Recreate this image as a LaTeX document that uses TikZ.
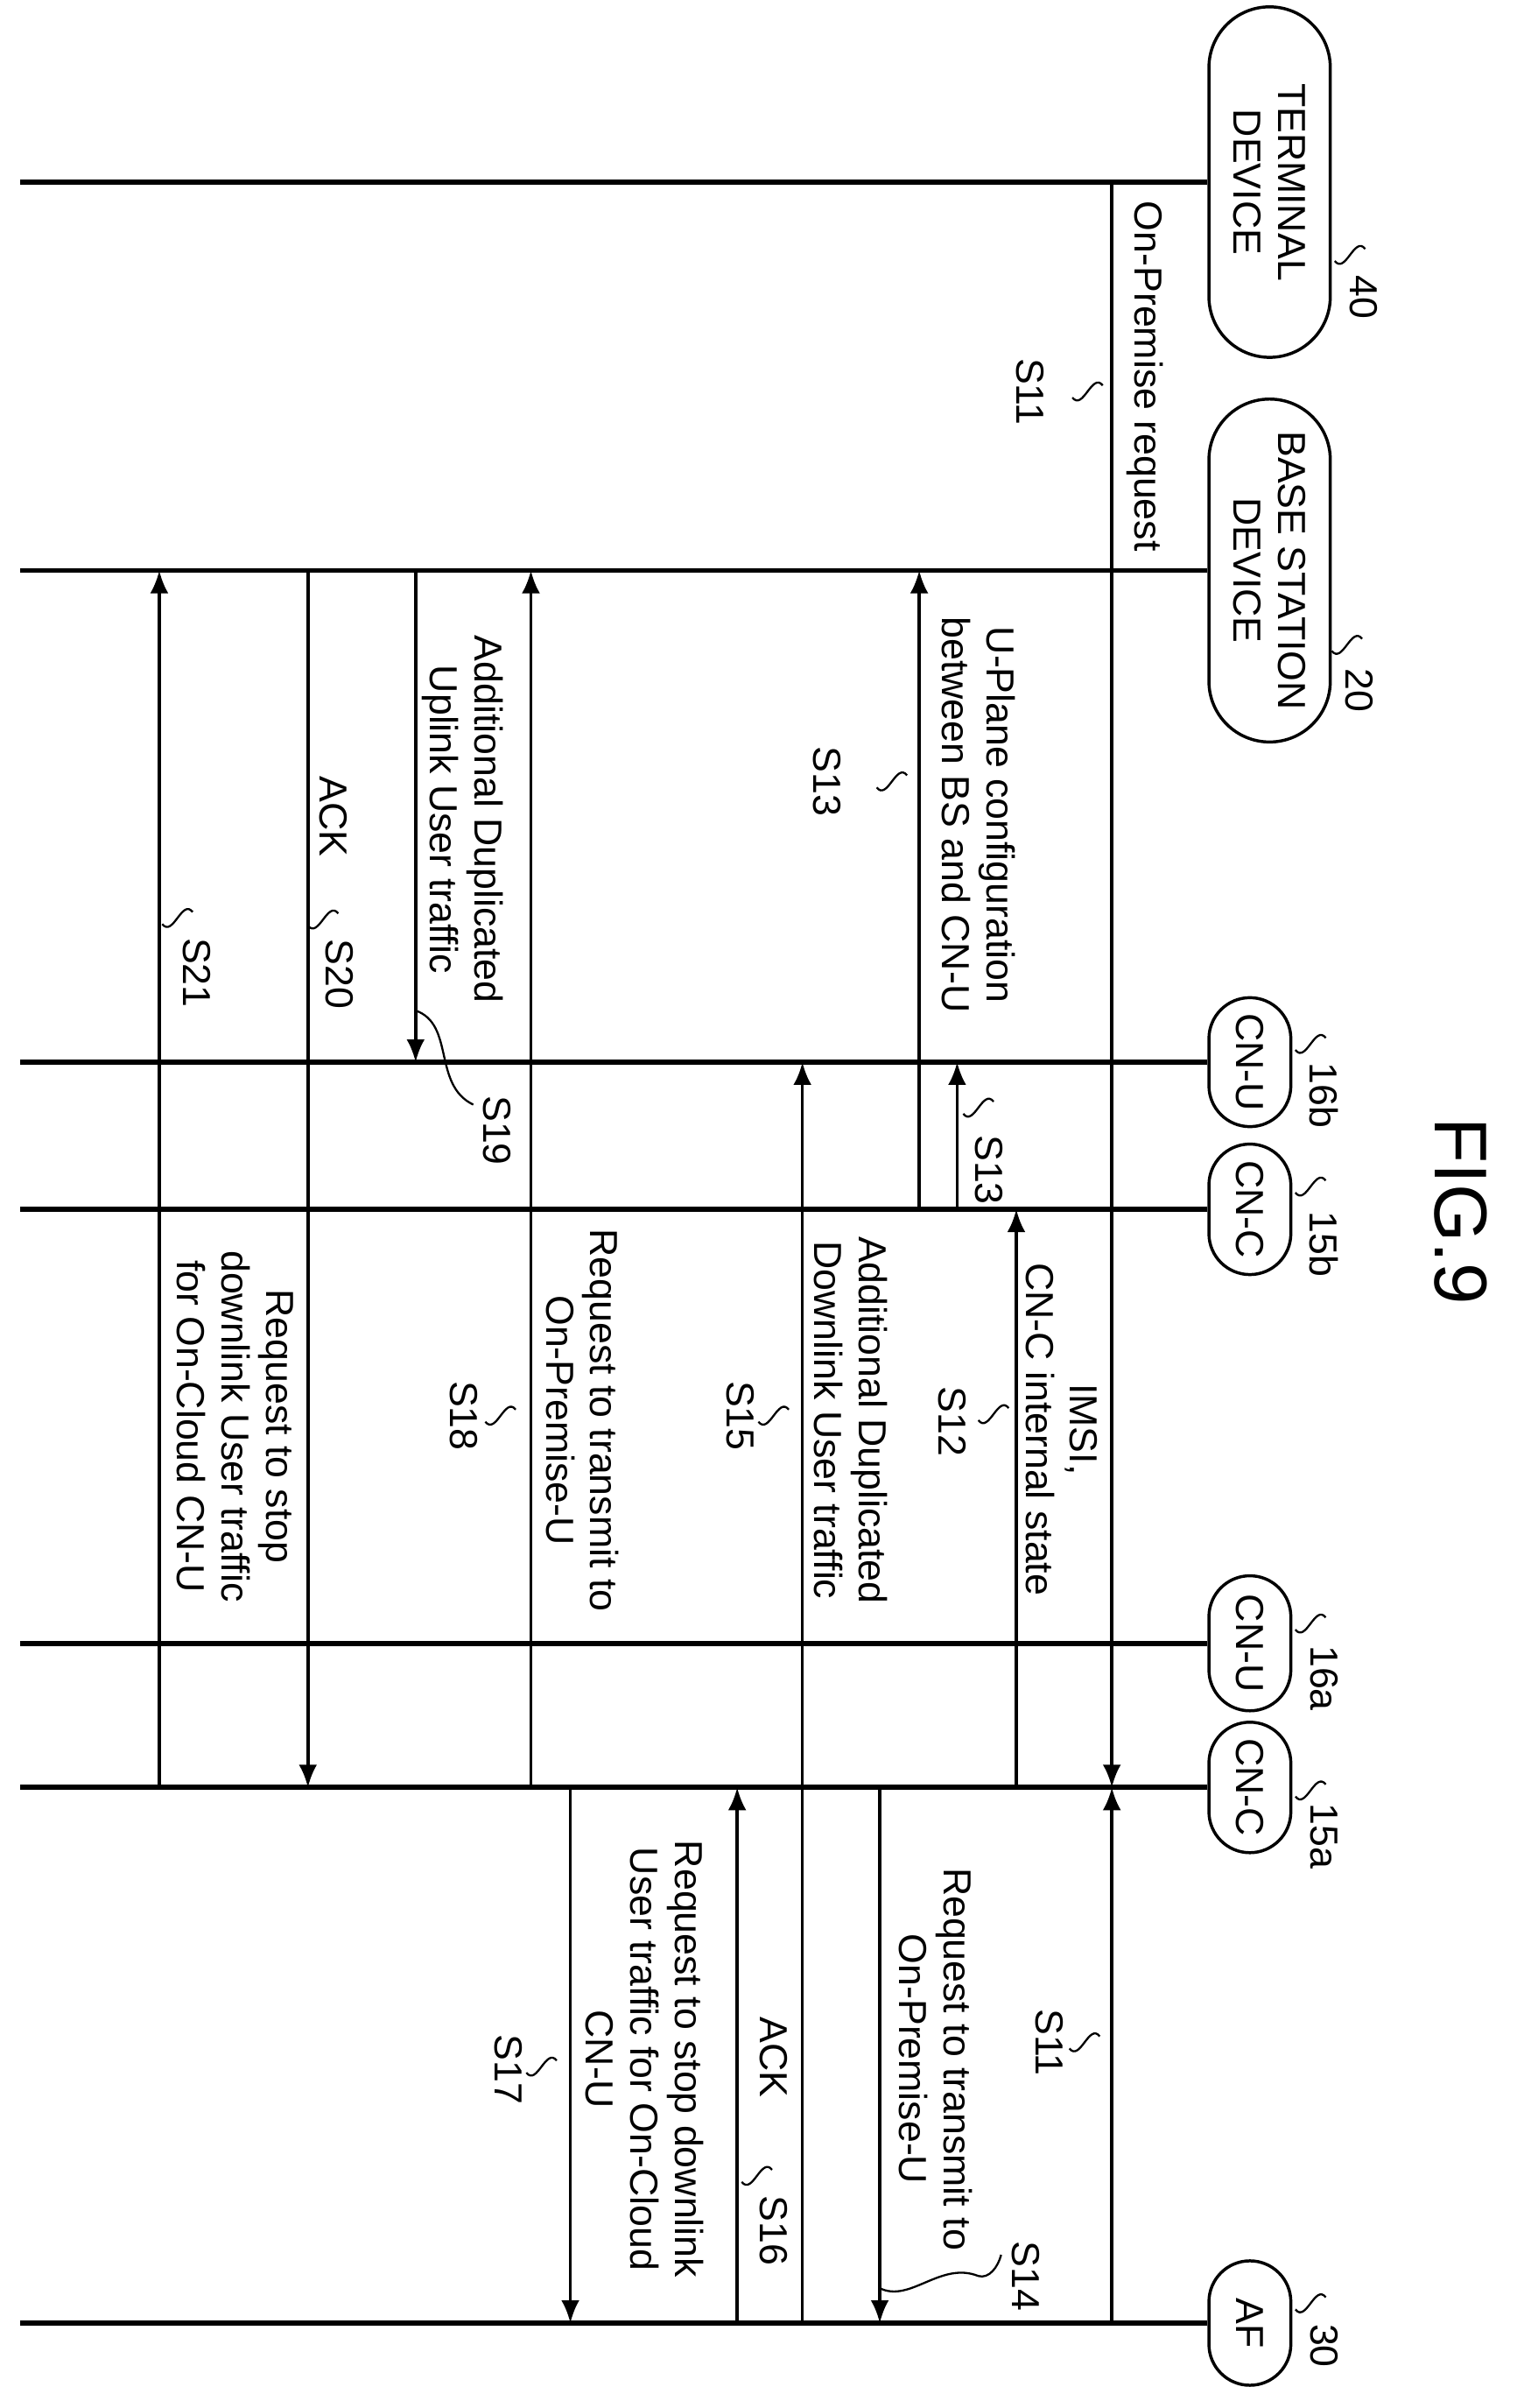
\documentclass[tikz,border=0pt]{standalone}
\usepackage{fontspec}
\setmainfont{Liberation Sans}
\usetikzlibrary{shapes.misc,arrows.meta}
\newcommand\sq[2]{\draw[lead] ({#1-10},{#2+4}) .. controls ({#1-3},{#2+13}) and ({#1+3},{#2-13}) .. ({#1+10},{#2-4});}
\begin{document}
\begin{tikzpicture}[x=0.3mm,y=-0.3mm,
 lbl/.style={rotate=-90,align=center,inner sep=0pt,font=\fontsize{22}{25}\selectfont},
 actor/.style={draw,line width=0.6mm,rounded rectangle,rotate=-90,align=center,inner sep=0pt,font=\fontsize{22}{25}\selectfont},
 life/.style={line width=1mm},
 msg/.style={line width=0.6mm,-{Latex[length=4.5mm,width=3.6mm]}},
 lead/.style={line width=0.4mm}]
\useasboundingbox (0,0) rectangle (1000,1587);
% actors
\node[actor,minimum width=69.3mm,minimum height=24mm] (T) at (837,120) {TERMINAL\\DEVICE};
\node[actor,minimum width=67.8mm,minimum height=24mm] (B) at (837,376) {BASE STATION\\DEVICE};
\node[actor,minimum width=25.5mm,minimum height=16.2mm] (U2) at (824,700) {CN-U};
\node[actor,minimum width=25.8mm,minimum height=16.2mm] (C2) at (824,797) {CN-C};
\node[actor,minimum width=26.7mm,minimum height=16.2mm] (U1) at (824,1083) {CN-U};
\node[actor,minimum width=25.8mm,minimum height=16.2mm] (C1) at (824,1178) {CN-C};
\node[actor,minimum width=24.6mm,minimum height=16.2mm] (AF) at (824,1531) {AF};
% lifeline ends
\coordinate (eT) at (13,120);
\coordinate (eB) at (13,376);
\coordinate (eU2) at (13,700);
\coordinate (eC2) at (13,797);
\coordinate (eU1) at (13,1083);
\coordinate (eC1) at (13,1178);
\coordinate (eAF) at (13,1531);
\foreach \n in {T,B,U2,C2,U1,C1,AF} {\draw[life] (\n.south) -- (e\n);}
% message columns
\foreach \x in {733,670,631,606,580,529,486,376,350,274,203,105} {\coordinate (x\x) at (\x,0);}
\draw[msg] (x733 |- T) -- (x733 |- C1);
\draw[msg] (x733 |- AF) -- (x733 |- C1);
\draw[msg] (x670 |- C1) -- (x670 |- C2);
\draw[msg] (x606 |- C2) -- (x606 |- B);
\draw[msg] (x631 |- C2) -- (x631 |- U2);
\draw[msg] (x580 |- C1) -- (x580 |- AF);
\draw[msg] (x529 |- AF) -- (x529 |- U2);
\draw[msg] (x486 |- AF) -- (x486 |- C1);
\draw[msg] (x376 |- C1) -- (x376 |- AF);
\draw[msg] (x350 |- C1) -- (x350 |- B);
\draw[msg] (x274 |- B) -- (x274 |- U2);
\draw[msg] (x203 |- B) -- (x203 |- C1);
\draw[msg] (x105 |- C1) -- (x105 |- B);
% reference numbers
\sq{890}{168} \node[lbl] (n40) at (899,196) {40};
\sq{888}{425} \node[lbl] (n20) at (896,455) {20};
\sq{864}{688} \node[lbl] (n16b) at (873,722) {16b};
\sq{864}{782} \node[lbl] (n15b) at (873,820) {15b};
\sq{864}{1070} \node[lbl] (n16a) at (873,1106) {16a};
\sq{864}{1180} \node[lbl] (n15a) at (873,1210) {15a};
\sq{864}{1518} \node[lbl] (n30) at (873,1546) {30};
% message labels
\node[lbl] (t1) at (755,248) {On-Premise request};
\sq{717}{258} \node[lbl] (s11a) at (679,258) {S11};
\node[lbl] (t2) at (645,537) {U-Plane configuration\\between BS and CN-U};
\sq{588}{515} \node[lbl] (s13a) at (545,515) {S13};
\sq{645}{730} \node[lbl] (s13b) at (652,771) {S13};
\node[lbl] (t3) at (305,540) {Additional Duplicated\\Uplink User traffic};
\draw[lead] (274,666) .. controls (300,675) and (285,715) .. (312,728);
\node[lbl] (s19) at (328,745) {S19};
\node[lbl] (t4) at (220,538) {ACK};
\sq{213}{606} \node[lbl] (s20) at (224,642) {S20};
\sq{117}{605} \node[lbl] (s21) at (130,641) {S21};
\node[lbl] (t5) at (700,942) {IMSI,\\CN-C internal state};
\sq{655}{932} \node[lbl] (s12) at (628,937) {S12};
\node[lbl] (t6) at (561,936) {Additional Duplicated\\Downlink User traffic};
\sq{510}{933} \node[lbl] (s15) at (488,933) {S15};
\node[lbl] (t7) at (384,936) {Request to transmit to\\On-Premise-U};
\sq{330}{933} \node[lbl] (s18) at (306,933) {S18};
\node[lbl] (t8) at (155,940) {Request to stop\\downlink User traffic\\for On-Cloud CN-U};
\node[lbl] (t9) at (617,1357) {Request to transmit to\\On-Premise-U};
\sq{715}{1346} \node[lbl] (s11b) at (692,1346) {S11};
\draw[lead] (580,1508) .. controls (600,1518) and (620,1490) .. (645,1500) .. controls (652,1502) and (658,1494) .. (660,1486);
\node[lbl] (s14) at (676,1500) {S14};
\node[lbl] (t10) at (510,1356) {ACK};
\sq{499}{1434} \node[lbl] (s16) at (510,1470) {S16};
\node[lbl] (t11) at (425,1357) {Request to stop downlink\\User traffic for On-Cloud\\CN-U};
\sq{357}{1362} \node[lbl] (s17) at (335,1364) {S17};
\node[rotate=-90,inner sep=0pt,font=\fontsize{42}{46}\selectfont] (fig) at (963,798) {FIG.9};
\end{tikzpicture}
\end{document}
